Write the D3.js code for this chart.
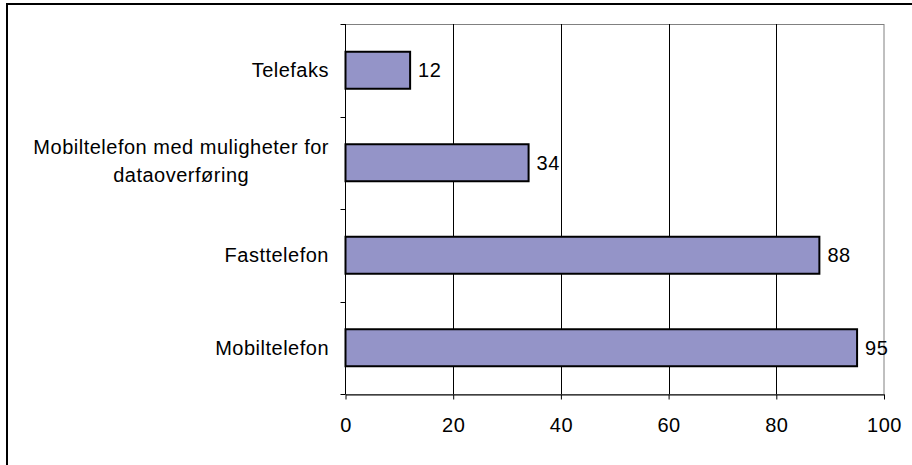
<!DOCTYPE html>
<meta charset="utf-8">
<style>
body{
    margin: 0;
    background: #fff;
}
svg text{
    font-family: "Liberation Sans", Arial, sans-serif;
    font-size: 20px;
    letter-spacing: 0.5px;
    fill: #000;
}
</style>
<body>
    <div class="wrap"></div>
    <script src="https://d3js.org/d3.v7.min.js"></script>
    <script>
        // data
        const categories = ["Telefaks", "Mobiltelefon med muligheter for dataoverføring", "Fasttelefon", "Mobiltelefon"];
        const values = [12, 34, 88, 95];
        const xTicks = [0, 20, 40, 60, 80, 100];

        const width = 912;
        const height = 465;
        const plot = {left: 345.5, right: 884, top: 24, bottom: 394};

        const svg = d3.select(".wrap")
                    .append("svg")
                    .attr("width", width)
                    .attr("height", height);

        // outer chart frame (right and bottom fall outside the picture)
        svg.append("rect")
            .attr("x", 7)
            .attr("y", 4)
            .attr("width", width + 10)
            .attr("height", height + 10)
            .style("fill", "none")
            .style("stroke", "#000")
            .style("stroke-width", 2);

        const x = d3.scaleLinear()
                    .domain([0, 100])
                    .range([plot.left, plot.right]);
        const y = d3.scaleBand()
                    .domain(categories)
                    .range([plot.top, plot.bottom])
                    .paddingInner(0.6)
                    .paddingOuter(0.3);

        // plot area frame
        svg.append("rect")
            .attr("x", plot.left)
            .attr("y", plot.top + 0.5)
            .attr("width", plot.right - plot.left)
            .attr("height", plot.bottom - plot.top)
            .style("fill", "none")
            .style("stroke", "#808080")
            .style("stroke-width", 1);

        // vertical gridlines
        svg.append("g")
            .selectAll("line")
            .data(xTicks.slice(1, -1))
            .join("line")
            .attr("x1", d => Math.round(x(d)) + 0.5)
            .attr("x2", d => Math.round(x(d)) + 0.5)
            .attr("y1", plot.top)
            .attr("y2", plot.bottom)
            .style("stroke", "#000")
            .style("stroke-width", 1);

        // x axis
        const xAxis = svg.append("g")
            .attr("transform", `translate(0,${plot.bottom + 0.5})`)
            .call(d3.axisBottom(x).tickValues(xTicks).tickSize(5).tickPadding(18).tickSizeOuter(0));
        xAxis.select(".domain").style("stroke", "#000");
        xAxis.selectAll(".tick line").style("stroke", "#000");
        xAxis.selectAll(".tick text")
            .attr("font-family", null)
            .attr("font-size", null);

        // y axis: line plus ticks on the category boundaries
        const step = y.step();
        const bounds = categories.map(c => y(c) - step * y.paddingInner() / 2);
        bounds.push(plot.bottom);
        const yAxis = svg.append("g");
        yAxis.append("line")
            .attr("x1", plot.left).attr("x2", plot.left)
            .attr("y1", plot.top).attr("y2", plot.bottom)
            .style("stroke", "#000");
        yAxis.selectAll("line.tick")
            .data(bounds)
            .join("line")
            .attr("class", "tick")
            .attr("x1", plot.left - 5).attr("x2", plot.left)
            .attr("y1", d => Math.round(d) + 0.5)
            .attr("y2", d => Math.round(d) + 0.5)
            .style("stroke", "#000");

        // bars
        svg.append("g")
            .selectAll("rect")
            .data(values)
            .join("rect")
            .attr("x", x(0))
            .attr("y", (d, i) => y(categories[i]))
            .attr("width", d => x(d) - x(0))
            .attr("height", y.bandwidth())
            .style("fill", "#9494c8")
            .style("stroke", "#000")
            .style("stroke-width", 2);

        // value labels
        svg.append("g")
            .selectAll("text")
            .data(values)
            .join("text")
            .attr("x", d => x(d) + 8)
            .attr("y", (d, i) => y(categories[i]) + y.bandwidth() / 2)
            .attr("dy", "0.35em")
            .text(d => d);

        // category labels, wrapped and centred line by line
        const labelRight = 329;
        const lineHeight = 28;
        svg.append("g")
            .selectAll("text")
            .data(categories)
            .join("text")
            .each(function(c) {
                const t = d3.select(this);
                const words = c.split(" ");
                let lines = [];
                let line = [];
                const probe = t.append("tspan");
                words.forEach(w => {
                    line.push(w);
                    probe.text(line.join(" "));
                    if (probe.node().getComputedTextLength() > 310 && line.length > 1) {
                        line.pop();
                        lines.push(line.join(" "));
                        line = [w];
                    }
                });
                lines.push(line.join(" "));
                let maxW = 0;
                lines.forEach(l => {
                    probe.text(l);
                    maxW = Math.max(maxW, probe.node().getComputedTextLength());
                });
                probe.remove();
                const cx = labelRight - maxW / 2;
                const cy = y(c) + y.bandwidth() / 2 - (lines.length > 1 ? 2 : 0);
                t.attr("text-anchor", "middle");
                lines.forEach((l, k) => {
                    t.append("tspan")
                        .attr("x", cx)
                        .attr("y", cy + (k - (lines.length - 1) / 2) * lineHeight)
                        .attr("dy", "0.35em")
                        .text(l);
                });
            });
    </script>
</body>
</html>
